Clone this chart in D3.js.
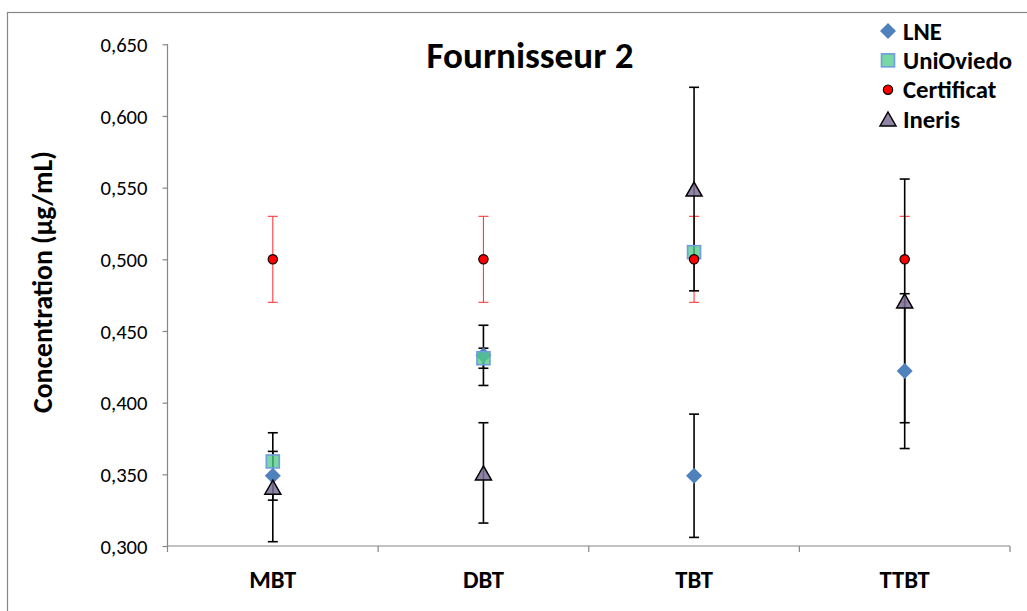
<!DOCTYPE html>
<html><head><meta charset="utf-8">
<script src="https://cdn.jsdelivr.net/npm/d3@7"></script>
<style>body{margin:0;background:#fff} svg{display:block}</style>
</head><body>
<svg id="c" width="1027" height="611"></svg>
<script>
// ---- data ----
const categories = ["MBT", "DBT", "TBT", "TTBT"];
const seriesNames = ["LNE", "UniOviedo", "Certificat", "Ineris"];
const lneValues = [0.349, 0.433, 0.349, 0.422];
const lneErrors = [0.017, 0.021, 0.043, 0.054];
const uniValues = [0.359, 0.431, 0.505, null];
const uniErrors = [null, 0.007, null, null];
const certValues = [0.500, 0.500, 0.500, 0.500];
const certErrors = [0.030, 0.030, 0.030, 0.030];
const inerisValues = [0.341, 0.351, 0.549, 0.471];
const inerisErrors = [0.038, 0.035, 0.071, 0.085];
const yTicks = [0.300, 0.350, 0.400, 0.450, 0.500, 0.550, 0.600, 0.650];
const yTickLabels = ["0,300", "0,350", "0,400", "0,450", "0,500", "0,550", "0,600", "0,650"];
const chartTitle = "Fournisseur 2";
const yTitle = "Concentration (µg/mL)";

const FONT = "Carlito, Lato, 'Open Sans', sans-serif";
const AXIS = "#868686";
const svg = d3.select("#c");

// outer chart border (extends past the picture on right/bottom)
svg.append("rect").attr("x", 7.5).attr("y", 12.5).attr("width", 1100).attr("height", 700)
  .attr("fill", "none").attr("stroke", AXIS).attr("stroke-width", 1.2);

const x = d3.scaleBand().domain(categories).range([167.5, 1010]);
const y = d3.scaleLinear().domain([0.3, 0.65]).range([546, 44.3]);
const cx = c => x(c) + x.bandwidth() / 2;

function fitFont(sel, target) {
  let fs = parseFloat(sel.attr("font-size"));
  const w = sel.node().getComputedTextLength();
  return fs * target / w;
}

// y axis
const yAxis = svg.append("g").attr("transform", "translate(167.5,0)")
  .call(d3.axisLeft(y).tickValues(yTicks).tickFormat((d, i) => yTickLabels[i])
    .tickSize(5).tickSizeOuter(0).tickPadding(15));
yAxis.selectAll("path,line").attr("stroke", AXIS).attr("stroke-width", 1.2);
yAxis.select(".domain").attr("d", `M0,${y(0.65)}V${y(0.3)}`);
const tl = yAxis.selectAll("text").attr("font-family", FONT).attr("font-size", 20).attr("fill", "#000");
const tfs = fitFont(yAxis.selectAll("text").filter((d, i) => i === 0), 47);
tl.attr("font-size", tfs).attr("dy", "0.35em");

// x axis
const xg = svg.append("g");
xg.append("line").attr("x1", x.range()[0]).attr("x2", x.range()[1])
  .attr("y1", y(0.3)).attr("y2", y(0.3)).attr("stroke", AXIS).attr("stroke-width", 1.2);
const bounds = categories.map(c => x(c)).concat([x.range()[1]]);
xg.selectAll(".xt").data(bounds).enter().append("line")
  .attr("x1", d => d).attr("x2", d => d).attr("y1", y(0.3)).attr("y2", y(0.3) + 6)
  .attr("stroke", AXIS).attr("stroke-width", 1.2);
const cl = xg.selectAll(".cl").data(categories).enter().append("text")
  .attr("x", cx).attr("y", 588).attr("text-anchor", "middle")
  .attr("font-family", FONT).attr("font-weight", "bold").attr("font-size", 24).text(d => d);
const cfs = fitFont(cl.filter((d, i) => i === 0), 47);
cl.attr("font-size", cfs);

// title
const tt = svg.append("text").attr("x", 530).attr("y", 68).attr("text-anchor", "middle")
  .attr("font-family", FONT).attr("font-weight", "bold").attr("font-size", 36).text(chartTitle);
tt.attr("font-size", fitFont(tt, 207));

// y title
const yt = svg.append("text").attr("transform", "translate(52,282) rotate(-90)")
  .attr("text-anchor", "middle").attr("font-family", FONT).attr("font-weight", "bold")
  .attr("font-size", 24).text(yTitle);
yt.attr("font-size", fitFont(yt, 262));

// error bars
function errData(vals, errs) {
  return categories.map((c, i) => ({ c, v: vals[i], e: errs[i] })).filter(d => d.v != null && d.e != null);
}
function drawErr(vals, errs, color, w, cap) {
  const g = svg.append("g").attr("stroke", color).attr("stroke-width", w);
  const d = errData(vals, errs);
  g.selectAll(".v").data(d).enter().append("line")
    .attr("x1", d => cx(d.c)).attr("x2", d => cx(d.c))
    .attr("y1", d => y(d.v - d.e)).attr("y2", d => y(d.v + d.e));
  [-1, 1].forEach(s => {
    g.selectAll(".cap" + s).data(d).enter().append("line")
      .attr("x1", d => cx(d.c) - cap).attr("x2", d => cx(d.c) + cap)
      .attr("y1", d => y(d.v + s * d.e)).attr("y2", d => y(d.v + s * d.e));
  });
}
drawErr(lneValues, lneErrors, "#000", 1.6, 5);
drawErr(uniValues, uniErrors, "#000", 1.6, 5);
drawErr(certValues, certErrors, "#ff3b3b", 1.1, 5);
drawErr(inerisValues, inerisErrors, "#000", 1.6, 5);

// marker painters
const markers = {
  LNE: g => g.append("path").attr("d", "M0,-8L8,0L0,8L-8,0Z").attr("fill", "#4f81bd"),
  UniOviedo: g => g.append("rect").attr("x", -6.5).attr("y", -6.5).attr("width", 13).attr("height", 13)
    .attr("fill", "#52cc88").attr("fill-opacity", 0.78).attr("stroke", "#6f9ddf").attr("stroke-width", 1.6),
  Certificat: g => g.append("circle").attr("r", 4.7).attr("fill", "#ff0000").attr("stroke", "#000").attr("stroke-width", 1.1),
  Ineris: g => g.append("path").attr("d", "M0,-7L8,7L-8,7Z").attr("fill", "#7b6f97").attr("fill-opacity", 0.85)
    .attr("stroke", "#000").attr("stroke-width", 1.5).attr("stroke-linejoin", "miter")
};
const seriesVals = { LNE: lneValues, UniOviedo: uniValues, Certificat: certValues, Ineris: inerisValues };

seriesNames.forEach(name => {
  categories.forEach((c, i) => {
    const v = seriesVals[name][i];
    if (v == null) return;
    const g = svg.append("g").attr("transform", `translate(${cx(c)},${y(v)})`);
    markers[name](g);
  });
});

// legend
const legY = d3.scaleLinear().domain([0, 3]).range([31, 119]);
const lg = svg.append("g");
let lfs = null;
seriesNames.forEach((name, i) => {
  const g = lg.append("g").attr("transform", `translate(888,${legY(i)})`);
  markers[name](g);
  const t = lg.append("text").attr("x", 903).attr("y", legY(i)).attr("dy", "0.35em")
    .attr("font-family", FONT).attr("font-weight", "bold").attr("font-size", 24).text(name);
  if (name === "UniOviedo") lfs = fitFont(t, 109);
});
lg.selectAll("text").attr("font-size", lfs);
</script>
</body></html>
